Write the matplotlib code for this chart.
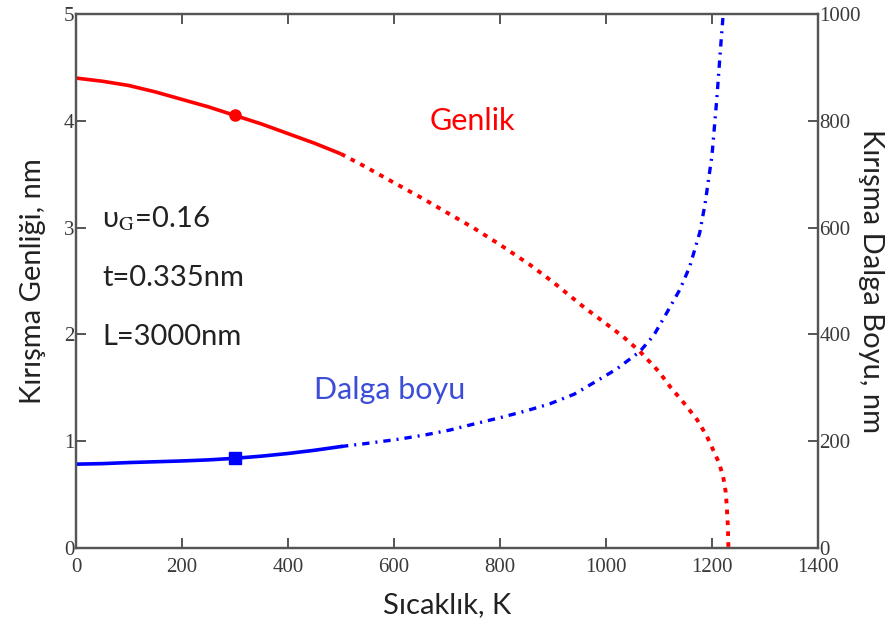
import numpy as np
import matplotlib.pyplot as plt

plt.rcParams['mathtext.fontset'] = 'stix'

# Genlik (left axis, nm)
t_amp_solid = [0, 50, 100, 150, 200, 250, 300, 350, 400, 450, 500]
amp_solid = [4.40, 4.37, 4.33, 4.27, 4.20, 4.13, 4.05, 3.97, 3.88, 3.79, 3.69]
t_amp_dot = [500, 542, 600, 655, 700, 749, 800, 857, 900, 957, 1000, 1032, 1064, 1100,
             1121, 1150, 1172, 1190, 1202, 1213, 1221, 1226, 1228, 1230, 1231]
amp_dot = [3.69, 3.58, 3.42, 3.27, 3.14, 3.00, 2.84, 2.65, 2.49, 2.26, 2.10, 1.98, 1.84, 1.65,
           1.51, 1.34, 1.20, 1.05, 0.92, 0.80, 0.67, 0.52, 0.38, 0.20, 0.0]

# Dalga boyu (right axis, nm)
t_wl_solid = [0, 50, 100, 150, 200, 250, 300, 350, 400, 450, 500]
wl_solid = [157, 158, 160, 161.5, 163, 165, 168, 172, 177, 183, 190]
t_wl_dd = [500, 550, 611, 660, 706, 750, 800, 850, 894, 940, 976, 1020, 1064, 1090, 1115,
           1140, 1158, 1177, 1187, 1200, 1209, 1217, 1222]
wl_dd = [190, 196, 204, 212, 221, 232, 244, 257, 270, 288, 309, 335, 368, 398, 441,
         485, 527, 591, 645, 735, 840, 947, 1010]

mark_t = 300
mark_amp = 4.05
mark_wl = 168

xticks = [0, 200, 400, 600, 800, 1000, 1200, 1400]
yticks_l = [0, 1, 2, 3, 4, 5]
yticks_r = [0, 200, 400, 600, 800, 1000]

sans = ['Lato', 'DejaVu Sans']
tickfont = {'family': 'Liberation Serif', 'size': 15, 'color': '#3a3a3a'}

fig = plt.figure(figsize=(8.93, 6.24), dpi=100)
ax = fig.add_axes([0.0851, 0.1218, 0.8309, 0.8558])
ax2 = ax.twinx()

ax.plot(t_amp_solid, amp_solid, color='red', lw=2.6, solid_capstyle='butt')
ax.plot(t_amp_dot, amp_dot, color='red', lw=2.8, ls=(0, (1.2, 1.6)))
ax.plot([mark_t], [mark_amp], 'o', color='red', ms=8)

ax2.plot(t_wl_solid, wl_solid, color='blue', lw=2.6)
ax2.plot(t_wl_dd, wl_dd, color='blue', lw=2.4, ls=(0, (2.2, 1.8, 0.6, 1.8)))
ax2.plot([mark_t], [mark_wl], 's', color='blue', ms=9)

ax.set_xlim(0, 1400)
ax.set_ylim(0, 5)
ax2.set_ylim(0, 1000)

for a in (ax, ax2):
    for s in a.spines.values():
        s.set_color('#555555')
        s.set_linewidth(1.6)
    a.tick_params(direction='in', length=7, width=1.4, color='#555555')

ax.set_xticks(xticks)
ax.set_xticklabels([str(v) for v in xticks], fontdict=tickfont)
ax.set_yticks(yticks_l)
ax.set_yticklabels([str(v) for v in yticks_l], fontdict=tickfont)
ax.tick_params(axis='x', top=True, pad=7)
ax.tick_params(axis='y', pad=1)
ax2.set_yticks(yticks_r)
ax2.set_yticklabels([str(v) for v in yticks_r], fontdict=tickfont)
ax2.tick_params(axis='y', pad=1)

ax.set_xlabel('Sıcaklık, K', family=sans, fontsize=21, color='#222222', labelpad=11)
ax.set_ylabel('Kırışma Genliği, nm', family=sans, fontsize=21, color='#222222', labelpad=13)
ax2.set_ylabel('Kırışma Dalga Boyu, nm', family=sans, fontsize=21, color='#222222',
               rotation=270, labelpad=17)

ax.text(668, 4.0, 'Genlik', family=sans, fontsize=22, color='red', va='center')
ax.text(450, 1.48, 'Dalga boyu', family=sans, fontsize=22, color='#3c4ed8', va='center')
ax.text(50, 3.08, r'υ$_{\mathrm{G}}$=0.16', family=sans, fontsize=21, color='#222222', va='center')
ax.text(50, 2.53, 't=0.335nm', family=sans, fontsize=21, color='#222222', va='center')
ax.text(50, 1.98, 'L=3000nm', family=sans, fontsize=21, color='#222222', va='center')

fig.savefig('out.png', dpi=100)
